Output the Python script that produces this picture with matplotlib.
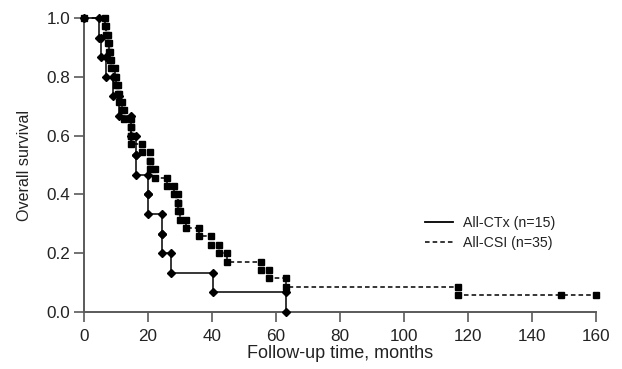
import numpy as np
import matplotlib
matplotlib.use("Agg")
import matplotlib.pyplot as plt

plt.rcParams["font.family"] = ["Liberation Sans", "DejaVu Sans"]

# death times (months), one entry per death
ctx_n = 15
ctx_deaths = [4.7, 5.2, 7.0, 9.0, 10.8, 14.8, 16.2, 16.2, 20.0, 20.0,
              24.4, 24.4, 27.2, 40.4, 63.0]
ctx_censored = []

csi_n = 35
csi_deaths = [6.5, 7.0, 7.5, 7.8, 8.2, 8.6, 9.6, 10.1, 10.6, 11.1, 11.8, 12.6,
              14.8, 14.8, 14.8, 18.2, 20.6, 20.6, 22.2, 25.8, 28.1, 29.5, 29.5,
              30.0, 32.0, 36.0, 39.6, 42.3, 44.8, 55.2, 57.8, 63.0, 117.0]
csi_censored = [149.0, 160.0]

series_labels = ["All-CTx (n=15)", "All-CSI (n=35)"]


def km_vertices(n, deaths, censored):
    xs, ys = [0.0], [1.0]
    s = 1.0
    for t in sorted(deaths):
        xs.append(t); ys.append(s)
        s -= 1.0 / n
        xs.append(t); ys.append(s)
    for t in sorted(censored):
        xs.append(t); ys.append(s)
    return np.array(xs), np.array(ys)


text_col = "#222222"
axis_col = "#5a5a5a"

fig = plt.figure(figsize=(6.22, 3.69), dpi=100)
ax = fig.add_axes([0.135, 0.1545, 0.823, 0.7965])

x1, y1 = km_vertices(ctx_n, ctx_deaths, ctx_censored)
x2, y2 = km_vertices(csi_n, csi_deaths, csi_censored)

ax.plot(x2, y2, color="black", lw=1.1, ls=(0, (3, 2)), marker="s", ms=4.3,
        clip_on=False, zorder=3)
ax.plot(x1, y1, color="black", lw=1.1, ls="-", marker="D", ms=3.6,
        clip_on=False, zorder=4)

# legend handles without markers
h1, = ax.plot([], [], color="black", lw=1.3, ls="-")
h2, = ax.plot([], [], color="black", lw=1.1, ls=(0, (3, 2)))
leg = ax.legend([h1, h2], series_labels, loc="center left",
                bbox_to_anchor=(0.641, 0.269), frameon=False, fontsize=10.2,
                handlelength=2.0, handletextpad=0.7, labelspacing=0.45)
for t in leg.get_texts():
    t.set_color(text_col)

ax.set_xlim(0, 160)
ax.set_ylim(0, 1.0)
ax.set_xticks(np.arange(0, 161, 20))
ax.set_yticks(np.arange(0, 1.01, 0.2))
ax.set_yticklabels([f"{v:.1f}" for v in np.arange(0, 1.01, 0.2)])
ax.spines["top"].set_visible(False)
ax.spines["right"].set_visible(False)
for sp in ("left", "bottom"):
    ax.spines[sp].set_color(axis_col)
    ax.spines[sp].set_linewidth(1.4)
ax.tick_params(direction="out", length=7, width=1.2, color=axis_col,
               labelsize=12.3, labelcolor=text_col, pad=3)
ax.tick_params(axis="x", pad=5)
ax.set_xlabel("Follow-up time, months", fontsize=13, color=text_col, labelpad=1)
ax.set_ylabel("Overall survival", fontsize=11.6, color=text_col, labelpad=10)

fig.savefig("out.png", dpi=100)
